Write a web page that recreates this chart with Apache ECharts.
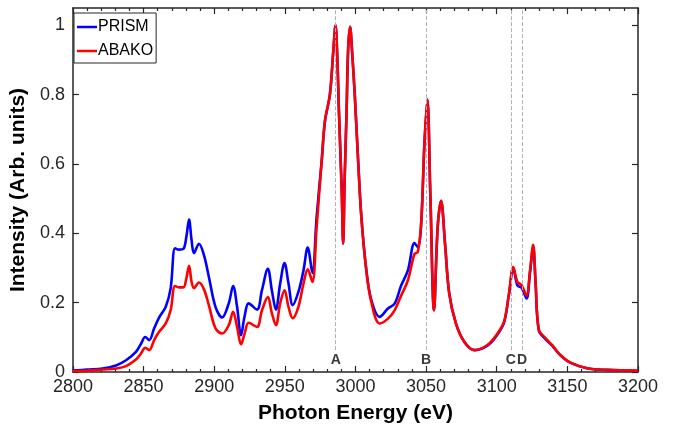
<!DOCTYPE html>
<html>
<head>
<meta charset="utf-8">
<script src="https://cdn.jsdelivr.net/npm/echarts@6/dist/echarts.min.js"></script>
<style>html,body{margin:0;padding:0;background:#fff;}#chart{width:674px;height:433px;}</style>
</head>
<body>
<div id="chart"></div>
<script>
// Photon energy grid (eV)
const energy = [2800, 2810, 2821, 2830.5, 2837.6, 2844.6, 2848, 2851.2, 2854, 2857.5, 2861, 2865.7, 2869.2, 2872.3, 2875.1, 2878.2, 2880.3, 2882.2, 2884, 2885.7, 2889.2, 2892.7, 2896.2, 2900.9, 2905.6, 2910.3, 2913.4, 2916.2, 2919, 2921.5, 2924.4, 2930.3, 2933.8, 2938, 2940.8, 2943.7, 2946.7, 2949.8, 2952.6, 2955.6, 2959.6, 2963.2, 2966.2, 2969.5, 2972.5, 2976.1, 2978.4, 2981.9, 2984.3, 2985.9, 2987.2, 2988.3, 2990.3, 2991.3, 2992.3, 2993.7, 2994.8, 2996.2, 2997.6, 2999.5, 3001.9, 3004.2, 3007.7, 3011.3, 3017.1, 3023, 3027.7, 3032.4, 3037.1, 3041.8, 3044.1, 3046.5, 3048.8, 3050.9, 3053, 3055.6, 3058.2, 3060.6, 3063.4, 3066.4, 3071.1, 3077, 3084, 3093.4, 3100.5, 3105.2, 3108.7, 3111.7, 3114.6, 3117.6, 3121.1, 3123.5, 3125.8, 3127.5, 3129.8, 3134.5, 3139.2, 3145.1, 3152.1, 3163.9, 3178, 3200];

const prism = [0.004, 0.007, 0.010, 0.019, 0.034, 0.058, 0.080, 0.101, 0.092, 0.126, 0.157, 0.188, 0.242, 0.357, 0.353, 0.355, 0.390, 0.440, 0.380, 0.343, 0.370, 0.338, 0.275, 0.188, 0.157, 0.198, 0.248, 0.188, 0.106, 0.160, 0.198, 0.180, 0.236, 0.298, 0.236, 0.180, 0.255, 0.314, 0.255, 0.193, 0.231, 0.293, 0.359, 0.286, 0.447, 0.609, 0.724, 0.800, 0.925, 1.000, 0.900, 0.753, 0.520, 0.370, 0.550, 0.750, 0.930, 0.996, 0.925, 0.800, 0.609, 0.446, 0.293, 0.207, 0.159, 0.183, 0.197, 0.250, 0.293, 0.372, 0.360, 0.427, 0.657, 0.786, 0.513, 0.178, 0.418, 0.494, 0.370, 0.226, 0.140, 0.087, 0.063, 0.076, 0.108, 0.143, 0.226, 0.300, 0.250, 0.243, 0.212, 0.285, 0.360, 0.255, 0.120, 0.095, 0.076, 0.048, 0.027, 0.011, 0.006, 0.003];

const abako = [0.002, 0.004, 0.007, 0.010, 0.017, 0.036, 0.052, 0.070, 0.063, 0.092, 0.116, 0.140, 0.179, 0.248, 0.244, 0.244, 0.270, 0.306, 0.260, 0.242, 0.258, 0.239, 0.193, 0.126, 0.111, 0.135, 0.174, 0.130, 0.080, 0.110, 0.142, 0.130, 0.178, 0.216, 0.170, 0.135, 0.198, 0.236, 0.188, 0.155, 0.188, 0.255, 0.296, 0.260, 0.418, 0.609, 0.724, 0.800, 0.925, 1.000, 0.900, 0.753, 0.520, 0.370, 0.550, 0.750, 0.930, 0.996, 0.925, 0.800, 0.609, 0.446, 0.293, 0.200, 0.140, 0.154, 0.178, 0.221, 0.264, 0.341, 0.346, 0.427, 0.657, 0.786, 0.513, 0.178, 0.418, 0.494, 0.370, 0.226, 0.140, 0.087, 0.063, 0.078, 0.111, 0.145, 0.226, 0.303, 0.260, 0.250, 0.221, 0.290, 0.367, 0.260, 0.122, 0.098, 0.078, 0.049, 0.027, 0.011, 0.006, 0.004];

const seriesNames = ['PRISM', 'ABAKO'];
const markerEnergies = [2986, 3050, 3110, 3118];
const markerLabels = ['A', 'B', 'C', 'D'];
const yTicks = [0, 0.2, 0.4, 0.6, 0.8, 1];
const xTicks = [2800, 2850, 2900, 2950, 3000, 3050, 3100, 3150, 3200];

const axisColor = '#262626';
const fontFam = 'Liberation Sans, Arial, Helvetica, sans-serif';

function pairs(xs, ys) { return xs.map((x, i) => [x, ys[i]]); }

const chart = echarts.init(document.getElementById('chart'), null, {renderer: 'canvas'});

const xBase = {
  type: 'value', min: 2800, max: 3200, interval: 50,
  axisLine: {show: true, onZero: false, lineStyle: {color: axisColor, width: 1.5}},
  axisTick: {show: true, inside: true, length: 6, lineStyle: {color: axisColor, width: 1.2}},
  minorTick: {show: true, splitNumber: 5, length: 3, lineStyle: {color: axisColor, width: 1.2}},
  splitLine: {show: false}
};
const yBase = {
  type: 'value', min: 0, max: 1.05,
  axisLine: {show: true, onZero: false, lineStyle: {color: axisColor, width: 1.5}},
  axisTick: {show: true, inside: true, length: 6, customValues: yTicks, lineStyle: {color: axisColor, width: 1.2}},
  splitLine: {show: false}
};

chart.setOption({
  animation: false,
  backgroundColor: '#fff',
  grid: {left: 70, right: 36, top: 8, bottom: 61, containLabel: false},
  legend: {
    data: seriesNames,
    orient: 'vertical', left: 74, top: 13,
    icon: 'rect', itemWidth: 20, itemHeight: 2.5, itemGap: 8,
    padding: [6, 3, 4, 3],
    borderColor: axisColor, borderWidth: 1, backgroundColor: '#fff',
    textStyle: {fontSize: 16, color: '#000', fontFamily: fontFam, padding: [0, 0, 0, -4]}
  },
  xAxis: [
    Object.assign({}, xBase, {
      position: 'bottom',
      name: 'Photon Energy (eV)', nameLocation: 'middle', nameGap: 31,
      nameTextStyle: {fontSize: 21, fontWeight: 'bold', color: '#000', fontFamily: fontFam},
      axisLabel: {show: true, margin: 6, fontSize: 18, color: axisColor, fontFamily: fontFam, customValues: xTicks,
        formatter: v => String(v)}
    }),
    Object.assign({}, xBase, {position: 'top', axisLabel: {show: false}})
  ],
  yAxis: [
    Object.assign({}, yBase, {
      position: 'left',
      name: 'Intensity (Arb. units)', nameLocation: 'middle', nameGap: 37,
      nameTextStyle: {fontSize: 21, fontWeight: 'bold', color: '#000', fontFamily: fontFam},
      axisLabel: {show: true, margin: 8, fontSize: 18, color: axisColor, fontFamily: fontFam, customValues: yTicks,
        formatter: v => String(Math.round(v * 10) / 10)}
    }),
    Object.assign({}, yBase, {position: 'right', axisLabel: {show: false}})
  ],
  series: [
    {
      name: 'markers', type: 'line', data: [], z: 1, silent: true,
      markLine: {
        silent: true, symbol: ['none', 'none'], animation: false,
        lineStyle: {type: 'dashed', color: '#b0b0b0', width: 1},
        label: {show: true, position: 'start', distance: 3, fontSize: 14, fontWeight: 'bold', color: '#3a3a3a', fontFamily: fontFam,
          formatter: p => p.name},
        data: markerEnergies.map((e, i) => [
          {name: markerLabels[i], coord: [e, 0.063]},
          {coord: [e, 1.05]}
        ])
      }
    },
    {
      name: seriesNames[0], type: 'line', data: pairs(energy, prism), z: 3,
      showSymbol: false, smooth: 0.35, color: '#0000ff',
      lineStyle: {color: '#0000ff', width: 2.6}
    },
    {
      name: seriesNames[1], type: 'line', data: pairs(energy, abako), z: 4,
      showSymbol: false, smooth: 0.35, color: '#ff0000',
      lineStyle: {color: '#ff0000', width: 2.6}
    }
  ]
});
</script>
</body>
</html>
